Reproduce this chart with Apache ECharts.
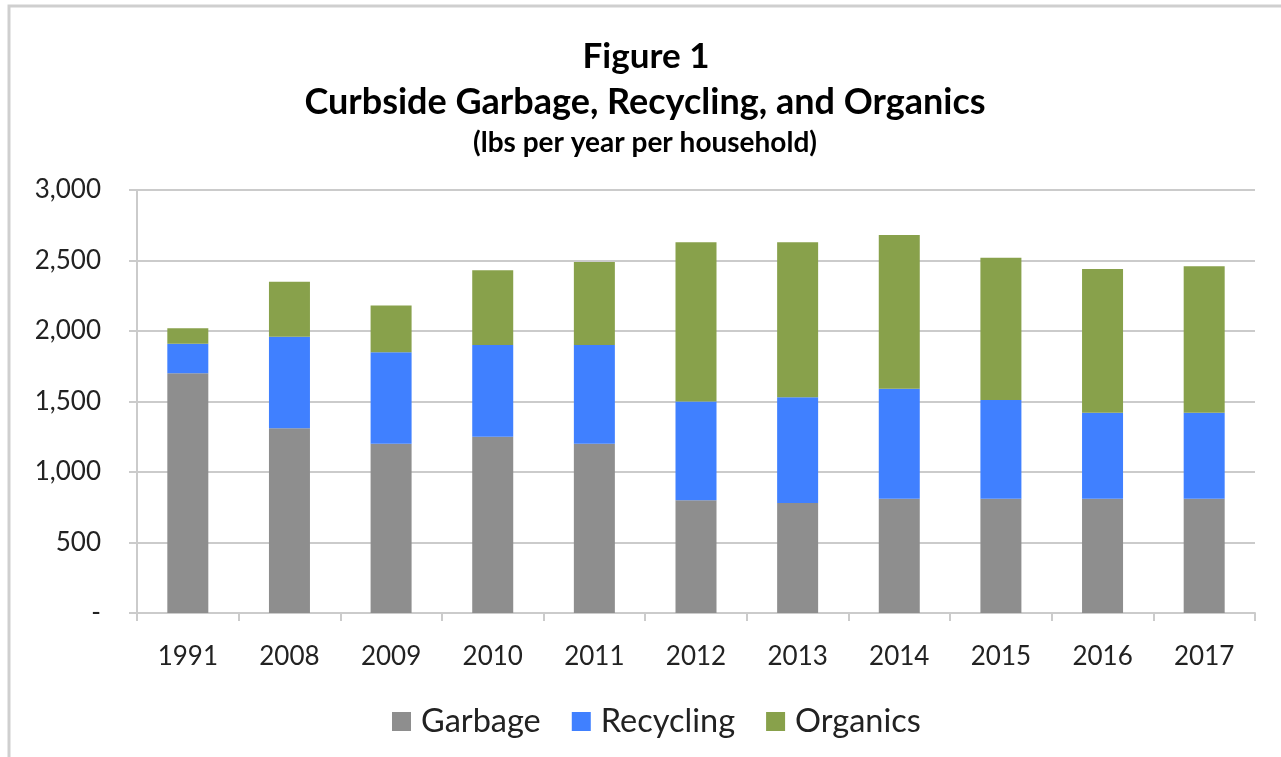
<!DOCTYPE html>
<html>
<head>
<meta charset="utf-8">
<script src="https://cdn.jsdelivr.net/npm/echarts@6/dist/echarts.min.js"></script>
<style>
    html, body {margin: 0; padding: 0; background: #fff;}
    #chart {width: 1281px; height: 757px;}
</style>
</head>
<body>
<div id="chart"></div>
<script>
// 数据：从图上读出来的估计值
const years = ['1991', '2008', '2009', '2010', '2011', '2012', '2013', '2014', '2015', '2016', '2017'];
const garbage = [1700, 1310, 1200, 1250, 1200, 800, 780, 810, 810, 810, 810];
const recycling = [210, 650, 650, 650, 700, 700, 750, 780, 700, 610, 610];
const organics = [110, 390, 330, 530, 590, 1130, 1100, 1090, 1010, 1020, 1040];
const seriesNames = ['Garbage', 'Recycling', 'Organics'];
const colors = ['#8e8e8e', '#4080ff', '#88a14b'];

const FONT = 'Lato';
const gridColor = '#cbcbcb';

const chart = echarts.init(document.getElementById('chart'));

function makeSeries(name, data, color) {
    return {
        name: name,
        type: 'bar',
        stack: 'total',
        barWidth: 41,
        data: data,
        itemStyle: {color: color},
        emphasis: {disabled: true}
    };
}

chart.setOption({
    animation: false,
    color: colors,
    graphic: [
        // 外框
        {
            type: 'rect',
            shape: {x: 9, y: 6, width: 1290, height: 780},
            style: {fill: 'none', stroke: '#cfcfcf', lineWidth: 3},
            silent: true
        },
        {
            type: 'text',
            x: 646, y: 57,
            style: {text: 'Figure 1', font: 'bold 35px ' + FONT, fill: '#000', align: 'center', verticalAlign: 'middle'}
        },
        {
            type: 'text',
            x: 645, y: 102,
            style: {text: 'Curbside Garbage, Recycling, and Organics', font: 'bold 36px ' + FONT, fill: '#000', align: 'center', verticalAlign: 'middle'}
        },
        {
            type: 'text',
            x: 645, y: 143,
            style: {text: '(lbs per year per household)', font: 'bold 28px ' + FONT, fill: '#000', align: 'center', verticalAlign: 'middle'}
        }
    ],
    legend: {
        data: seriesNames,
        left: 387,
        top: 700,
        itemWidth: 19,
        itemHeight: 19,
        itemGap: 31,
        icon: 'rect',
        textStyle: {fontFamily: FONT, fontSize: 32.5, color: '#222', padding: [0, 0, 0, 5]}
    },
    grid: {left: 137, right: 26, top: 190, bottom: 144, containLabel: false},
    xAxis: {
        type: 'category',
        data: years,
        axisLine: {lineStyle: {color: gridColor, width: 2}},
        axisTick: {show: true, length: 8, lineStyle: {color: gridColor, width: 2}},
        axisLabel: {fontFamily: FONT, fontSize: 26, color: '#222', margin: 31}
    },
    yAxis: {
        type: 'value',
        min: 0,
        max: 3000,
        interval: 500,
        axisLine: {show: true, lineStyle: {color: gridColor, width: 2}},
        axisTick: {show: true, length: 8, lineStyle: {color: gridColor, width: 2}},
        splitLine: {lineStyle: {color: gridColor, width: 2}},
        axisLabel: {
            fontFamily: FONT,
            fontSize: 26,
            color: '#222',
            margin: 36,
            formatter: function (v) {
                return v === 0 ? '-' : v.toLocaleString('en-US');
            }
        }
    },
    series: [
        makeSeries(seriesNames[0], garbage, colors[0]),
        makeSeries(seriesNames[1], recycling, colors[1]),
        makeSeries(seriesNames[2], organics, colors[2])
    ]
});
</script>
</body>
</html>
